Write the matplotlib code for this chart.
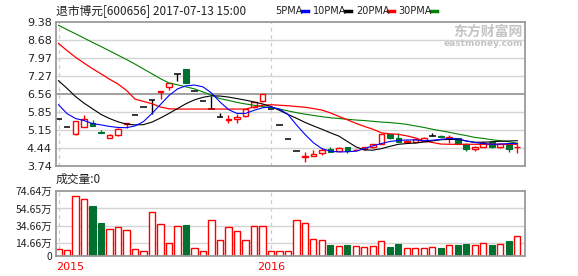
import matplotlib
matplotlib.use("Agg")
import matplotlib.pyplot as plt
from matplotlib.lines import Line2D
import numpy as np

plt.rcParams['font.family'] = ['Noto Sans CJK SC', 'DejaVu Sans']

# daily candles
opens = [5.57, 5.26, 4.99, 5.26, 5.42, 5.09, 4.82, 4.96, 5.37, 5.74,
         6.05, 6.32, 6.64, 6.83, 7.36, 7.52, 6.66, 6.30, 5.97, 5.67,
         5.56, 5.57, 5.68, 6.05, 6.27, 5.97, 5.35, 4.79, 4.31, 4.11,
         4.12, 4.26, 4.39, 4.33, 4.47, 4.35, 4.39, 4.47, 4.62, 4.98,
         4.85, 4.68, 4.68, 4.72, 4.91, 4.90, 4.85, 4.82, 4.62, 4.41,
         4.49, 4.69, 4.49, 4.62, 4.48]
highs = [5.57, 5.26, 5.51, 5.72, 5.54, 5.16, 5.01, 5.24, 5.44, 5.74,
         6.05, 6.32, 6.66, 7.01, 7.36, 7.52, 6.66, 6.30, 6.49, 5.83,
         5.74, 5.78, 5.99, 6.25, 6.56, 5.97, 5.35, 4.79, 4.31, 4.30,
         4.36, 4.43, 4.47, 4.47, 4.48, 4.39, 4.49, 4.62, 5.00, 4.99,
         5.04, 4.76, 4.80, 4.87, 5.04, 4.95, 4.95, 4.84, 4.64, 4.52,
         4.70, 4.72, 4.64, 4.64, 4.62]
lows = [5.57, 5.26, 4.96, 5.26, 5.29, 5.02, 4.82, 4.93, 5.22, 5.74,
        6.05, 5.78, 6.36, 6.70, 7.07, 6.99, 6.66, 6.30, 5.97, 5.67,
        5.42, 5.42, 5.64, 6.02, 6.25, 5.97, 5.35, 4.79, 4.31, 3.90,
        4.12, 4.17, 4.29, 4.32, 4.26, 4.33, 4.38, 4.45, 4.60, 4.78,
        4.68, 4.63, 4.66, 4.70, 4.91, 4.84, 4.65, 4.60, 4.33, 4.34,
        4.47, 4.43, 4.43, 4.30, 4.23]
closes = [5.57, 5.26, 5.51, 5.57, 5.29, 5.02, 4.95, 5.18, 5.44, 5.74,
          6.05, 6.32, 6.66, 6.99, 7.36, 6.99, 6.66, 6.30, 5.97, 5.67,
          5.58, 5.67, 5.97, 6.23, 6.56, 5.97, 5.35, 4.79, 4.31, 4.13,
          4.20, 4.36, 4.30, 4.45, 4.32, 4.37, 4.47, 4.60, 4.98, 4.85,
          4.69, 4.70, 4.78, 4.85, 4.91, 4.88, 4.87, 4.60, 4.40, 4.49,
          4.66, 4.49, 4.62, 4.39, 4.50]

ma5 = [6.14, 5.79, 5.60, 5.52, 5.40, 5.35, 5.29, 5.25, 5.24, 5.31,
       5.48, 5.80, 6.15, 6.50, 6.76, 6.88, 6.91, 6.84, 6.60, 6.25,
       5.95, 5.80, 5.80, 5.92, 6.02, 6.05, 5.97, 5.76, 5.35, 4.98,
       4.65, 4.42, 4.32, 4.29, 4.30, 4.32, 4.42, 4.53, 4.62, 4.70,
       4.74, 4.76, 4.76, 4.73, 4.75, 4.78, 4.82, 4.80, 4.72, 4.66,
       4.62, 4.59, 4.60, 4.62, 4.62]
ma10 = [7.08, 6.78, 6.46, 6.20, 5.98, 5.76, 5.60, 5.47, 5.38, 5.35,
        5.36, 5.46, 5.62, 5.80, 5.99, 6.18, 6.33, 6.43, 6.49, 6.48,
        6.44, 6.38, 6.32, 6.25, 6.17, 6.07, 5.92, 5.76, 5.61, 5.45,
        5.31, 5.18, 5.04, 4.91, 4.70, 4.49, 4.37, 4.36, 4.42, 4.51,
        4.59, 4.62, 4.64, 4.68, 4.72, 4.77, 4.78, 4.78, 4.72, 4.67,
        4.67, 4.69, 4.71, 4.72, 4.73]
ma20 = [8.54, 8.26, 8.00, 7.77, 7.55, 7.35, 7.14, 6.95, 6.70, 6.36,
        6.27, 6.18, 6.05, 5.98, 5.97, 5.97, 5.97, 5.97, 5.97, 5.97,
        5.97, 5.97, 5.97, 6.05, 6.12, 6.14, 6.12, 6.10, 6.07, 6.04,
        5.99, 5.93, 5.82, 5.68, 5.55, 5.41, 5.29, 5.18, 5.04, 5.00,
        4.98, 4.92, 4.84, 4.72, 4.66, 4.60, 4.59, 4.59, 4.59, 4.59,
        4.59, 4.59, 4.59, 4.59, 4.59]
ma30 = [9.25, 9.08, 8.92, 8.75, 8.58, 8.42, 8.25, 8.08, 7.91, 7.73,
        7.54, 7.35, 7.16, 6.99, 6.92, 6.84, 6.76, 6.64, 6.52, 6.38,
        6.31, 6.23, 6.17, 6.12, 6.07, 6.02, 5.97, 5.90, 5.83, 5.77,
        5.72, 5.67, 5.63, 5.60, 5.57, 5.54, 5.52, 5.49, 5.46, 5.44,
        5.41, 5.37, 5.31, 5.25, 5.18, 5.12, 5.06, 4.99, 4.93, 4.86,
        4.82, 4.77, 4.73, 4.69, 4.63]

# volume in 万
volume = [8.0, 6.9, 68.9, 65.5, 57.4, 37.9, 31.0, 32.9, 29.9, 8.0,
          5.7, 50.5, 36.7, 14.9, 34.1, 35.6, 9.2, 5.7, 41.3, 18.4,
          32.9, 28.7, 18.4, 34.4, 34.4, 5.7, 5.7, 5.7, 41.3, 37.5,
          19.5, 18.4, 12.6, 11.5, 12.6, 11.5, 10.3, 11.5, 17.2, 10.7,
          13.8, 9.2, 9.2, 9.2, 10.3, 9.6, 12.6, 12.6, 13.8, 12.6,
          14.9, 12.6, 13.8, 17.2, 23.0]

price_ticks = [3.74, 4.44, 5.15, 5.85, 6.56, 7.27, 7.97, 8.68, 9.38]
vol_ticks = [0, 14.66, 34.66, 54.65, 74.64]
vol_labels = ['0', '14.66万', '34.66万', '54.65万', '74.64万']
year_labels = ['2015', '2016']
year_pos = [0, 25]

RED = '#ff0000'
GREEN = '#007130'
W, H = 578, 276

fig = plt.figure(figsize=(W / 100, H / 100), dpi=100)
fig.patch.set_facecolor('white')

def fx(px):
    return px / W

def fy(py):
    return 1 - py / H

ax = fig.add_axes([fx(56), fy(166), (525 - 56) / W, (166 - 22) / H])
axv = fig.add_axes([fx(56), fy(256), (525 - 56) / W, (256 - 191) / H])

o = np.array(opens)
c = np.array(closes)
hi = np.array(highs)
lo = np.array(lows)
x = np.arange(len(o))
up = c > o
down = c < o
flat = c == o

# wicks
wick_col = np.where(up, RED, np.where(down, GREEN, 'black'))
ax.vlines(x, lo, hi, colors=list(wick_col), lw=1.0, zorder=2)
# bodies
ax.bar(x[up], (c - o)[up], bottom=o[up], width=0.68, facecolor='white',
       edgecolor=RED, lw=1.0, zorder=2.5)
ax.bar(x[down], (o - c)[down], bottom=c[down], width=0.68, facecolor=GREEN,
       edgecolor=GREEN, lw=0.8, zorder=2.5)
ax.hlines(o[flat], x[flat] - 0.38, x[flat] + 0.38, colors='black', lw=1.1, zorder=2.5)

ax.plot(x, ma30, color='#008000', lw=0.8, zorder=3)
ax.plot(x, ma20, color=RED, lw=0.9, zorder=3)
ax.plot(x, ma10, color='black', lw=0.8, zorder=3)
ax.plot(x, ma5, color='#0000ff', lw=0.8, zorder=3)

ax.set_xlim(-0.3, 54.9)
ax.set_ylim(price_ticks[0], price_ticks[-1])
ax.set_yticks(price_ticks)
ax.set_yticklabels(['%.2f' % t for t in price_ticks], fontsize=8,
                   color='#222222', family='DejaVu Sans')
ax.set_xticks([])
for t in price_ticks[1:-1]:
    col = '#999999' if t == 6.56 else '#d4d4d4'
    ax.axhline(t, color=col, lw=1.0 if t != 6.56 else 1.3, zorder=1)

# volume bars
v = np.array(volume)
axv.bar(x[~down], v[~down], width=0.72, facecolor='white', edgecolor=RED,
        lw=1.0, zorder=2)
axv.bar(x[down], v[down], width=0.72, facecolor=GREEN, edgecolor=GREEN,
        lw=0.8, zorder=2)
axv.set_xlim(-0.3, 54.9)
axv.set_ylim(0, 74.64)
axv.set_yticks(vol_ticks)
axv.set_yticklabels(vol_labels, fontsize=7.5, color='#222222')
axv.set_xticks([])
for t in vol_ticks[1:-1]:
    axv.axhline(t, color='#d4d4d4', lw=1.0, zorder=1)

for a in (ax, axv):
    a.tick_params(length=0, pad=3)
    for s in a.spines.values():
        s.set_color('#9a9a9a')
        s.set_linewidth(1.3)
    for p in year_pos:
        a.axvline(p, color='#cccccc', lw=0.9, ls=(0, (3, 3)), zorder=0.5)

# year labels under the volume panel
axv.text(-0.3, -0.1, year_labels[0], transform=axv.get_xaxis_transform(),
         ha='left', va='top', color=RED, fontsize=8, family='DejaVu Sans')
axv.text(year_pos[1], -0.1, year_labels[1], transform=axv.get_xaxis_transform(),
         ha='center', va='top', color=RED, fontsize=8, family='DejaVu Sans')

# header
fig.text(fx(56), fy(10.5), '退市博元[600656] 2017-07-13 15:00', fontsize=8.5,
         va='center', ha='left', color='#222222')
legend_items = [('5PMA', 275, 302, '#0000ff'), ('10PMA', 313, 345, 'black'),
                ('20PMA', 356, 388, RED), ('30PMA', 398, 431, '#008000')]
for name, tx, dx, col in legend_items:
    fig.text(fx(tx), fy(10.5), name, fontsize=7, va='center', ha='left',
             color='#222222', family='DejaVu Sans')
    fig.lines.append(Line2D([fx(dx), fx(dx + 6)], [fy(11), fy(11)],
                            transform=fig.transFigure, color=col, lw=2.5))

fig.text(fx(56), fy(179), '成交量:0', fontsize=8.5, va='center', ha='left',
         color='#222222')

# watermark
fig.text(fx(523), fy(32), '东方财富网', fontsize=10, va='center', ha='right',
         color='#c4c4c4', weight='bold')
fig.text(fx(523), fy(43), 'eastmoney.com', fontsize=6.5, va='center', ha='right',
         color='#c4c4c4', weight='bold', family='DejaVu Sans')

fig.savefig('out.png', dpi=100)
